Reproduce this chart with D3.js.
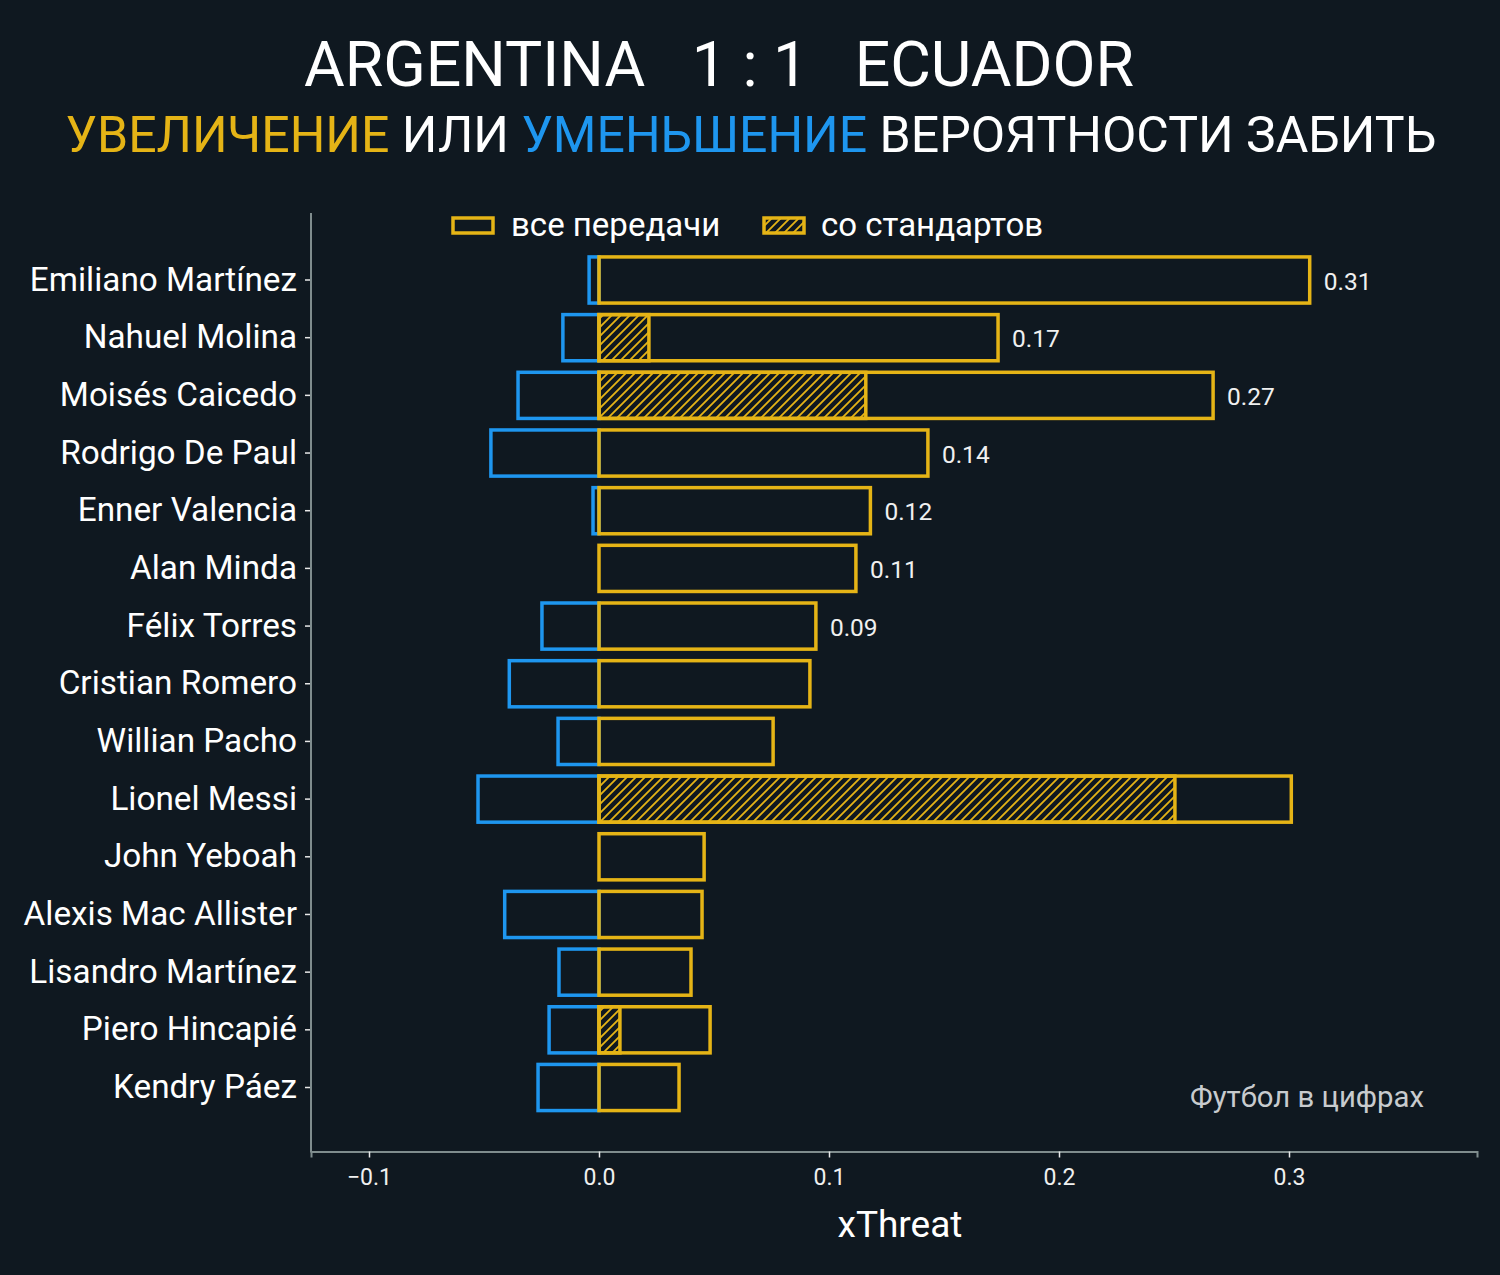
<!DOCTYPE html>
<html><head><meta charset="utf-8">
<script src="https://cdn.jsdelivr.net/npm/d3@7"></script>
<style>
html,body{margin:0;padding:0;background:#0f1820;}
svg{display:block;font-family:Roboto,"Noto Sans",sans-serif;}
</style></head>
<body><svg id="chart" width="1500" height="1275"></svg>
<script>
const players = ["Emiliano Martínez","Nahuel Molina","Moisés Caicedo","Rodrigo De Paul","Enner Valencia","Alan Minda","Félix Torres","Cristian Romero","Willian Pacho","Lionel Messi","John Yeboah","Alexis Mac Allister","Lisandro Martínez","Piero Hincapié","Kendry Páez"];
const positiveXT = [0.309,0.1735,0.267,0.143,0.118,0.1117,0.0943,0.0917,0.0757,0.301,0.0457,0.0448,0.040,0.0483,0.0348];
const negativeXT = [-0.0043,-0.0157,-0.0352,-0.047,-0.0026,0,-0.0248,-0.039,-0.0178,-0.0526,0,-0.041,-0.0174,-0.0217,-0.0265];
const setPieceXT = [0,0.0217,0.116,0,0,0,0,0,0,0.2504,0,0,0,0.0091,0];
const valueLabels = ["0.31","0.17","0.27","0.14","0.12","0.11","0.09","","","","","","","",""];
const xTicks = [-0.1,0.0,0.1,0.2,0.3];
const legendLabels = ["все передачи","со стандартов"];

const YEL="#e5b416", BLU="#1e96ef", BG="#0f1820", SPINE="#7f8c8d";
const svg=d3.select("#chart");
svg.append("rect").attr("width",1500).attr("height",1275).attr("fill",BG);

const defs=svg.append("defs");
const pat=defs.append("pattern").attr("id","hatch").attr("patternUnits","userSpaceOnUse")
  .attr("width",9).attr("height",9);
pat.append("path").attr("d","M-2,2 L2,-2 M0,9 L9,0 M7,11 L11,7").attr("stroke",YEL).attr("stroke-width",1.8);

const x=d3.scaleLinear().domain([(311-599)/2300,(1477-599)/2300]).range([311,1477]);
const step=(1087.5-280)/14;
const y=d3.scaleBand().domain(players).range([280-step/2,1087.5+step/2]).padding(0);
const bh=step*0.8;
const cy=d=>y(d)+y.bandwidth()/2;

// axes
const gx=svg.append("g").attr("transform","translate(0,1151.5)")
  .call(d3.axisBottom(x).tickValues(xTicks).tickFormat(d=>d3.format(".1f")(d).replace("-","−")).tickSizeOuter(0).tickSize(6).tickPadding(11));
gx.select(".domain").attr("stroke",SPINE).attr("stroke-width",2);
gx.selectAll(".tick line").attr("stroke","#e8e8e8").attr("stroke-width",1.5);
gx.selectAll(".tick text").attr("fill","#f0f0f0").attr("font-size",23).attr("font-family","Roboto");

const gy=svg.append("g").attr("transform","translate(311,0)")
  .call(d3.axisLeft(y).tickSizeOuter(0).tickSize(6).tickPadding(8));
gy.select(".domain").remove();
svg.append("line").attr("x1",311).attr("x2",311).attr("y1",213).attr("y2",1152.5).attr("stroke",SPINE).attr("stroke-width",2);
gy.selectAll(".tick line").attr("stroke","#e8e8e8").attr("stroke-width",1.5);
gy.selectAll(".tick text").attr("fill","#ffffff").attr("font-size",33.3).attr("font-family","Roboto");

const data=players.map((p,i)=>({p,pos:positiveXT[i],neg:negativeXT[i],sp:setPieceXT[i],lab:valueLabels[i]}));
const bars=svg.append("g");
// negative
bars.selectAll("rect.neg").data(data.filter(d=>d.neg<0)).join("rect").attr("class","neg")
  .attr("x",d=>x(d.neg)).attr("width",d=>x(0)-x(d.neg))
  .attr("y",d=>cy(d.p)-bh/2).attr("height",bh)
  .attr("fill","none").attr("stroke",BLU).attr("stroke-width",3.5);
// set piece hatch
bars.selectAll("rect.sp").data(data.filter(d=>d.sp>0)).join("rect").attr("class","sp")
  .attr("x",x(0)).attr("width",d=>x(d.sp)-x(0))
  .attr("y",d=>cy(d.p)-bh/2).attr("height",bh)
  .attr("fill","url(#hatch)").attr("stroke",YEL).attr("stroke-width",3.5);
// positive
bars.selectAll("rect.pos").data(data).join("rect").attr("class","pos")
  .attr("x",x(0)).attr("width",d=>x(d.pos)-x(0))
  .attr("y",d=>cy(d.p)-bh/2).attr("height",bh)
  .attr("fill","none").attr("stroke",YEL).attr("stroke-width",3.5);
// value labels
bars.selectAll("text.val").data(data.filter(d=>d.lab)).join("text").attr("class","val")
  .attr("x",d=>x(d.pos)+14).attr("y",d=>cy(d.p)+1).attr("dy","0.35em")
  .attr("fill","#f0f0f0").attr("font-size",24.5).text(d=>d.lab);

// legend
const lg=svg.append("g");
lg.append("rect").attr("x",453).attr("y",218).attr("width",40).attr("height",15).attr("fill","none").attr("stroke",YEL).attr("stroke-width",3.5);
lg.append("text").attr("x",511).attr("y",224).attr("dy","0.35em").attr("fill","#fff").attr("font-size",33).text(legendLabels[0]);
lg.append("rect").attr("x",764).attr("y",218).attr("width",40).attr("height",15).attr("fill","url(#hatch)").attr("stroke",YEL).attr("stroke-width",3.5);
lg.append("text").attr("x",821).attr("y",224).attr("dy","0.35em").attr("fill","#fff").attr("font-size",33).text(legendLabels[1]);

// titles
svg.append("text").attr("x",719).attr("y",86).attr("text-anchor","middle").attr("fill","#fff")
  .attr("font-size",62.5).style("white-space","pre").text("ARGENTINA   1 : 1   ECUADOR");
const sub=svg.append("text").attr("x",751).attr("y",152).attr("text-anchor","middle").attr("font-size",50).style("white-space","pre");
sub.append("tspan").attr("fill",YEL).text("УВЕЛИЧЕНИЕ");
sub.append("tspan").attr("fill","#fff").text(" ИЛИ ");
sub.append("tspan").attr("fill",BLU).text("УМЕНЬШЕНИЕ");
sub.append("tspan").attr("fill","#fff").text(" ВЕРОЯТНОСТИ ЗАБИТЬ");

// axis label
svg.append("text").attr("x",900).attr("y",1237).attr("text-anchor","middle").attr("fill","#fff").attr("font-size",37).text("xThreat");
// watermark
svg.append("text").attr("x",1424).attr("y",1107).attr("text-anchor","end").attr("fill","#c8cbce").attr("font-size",29.3).text("Футбол в цифрах");
</script></body></html>
